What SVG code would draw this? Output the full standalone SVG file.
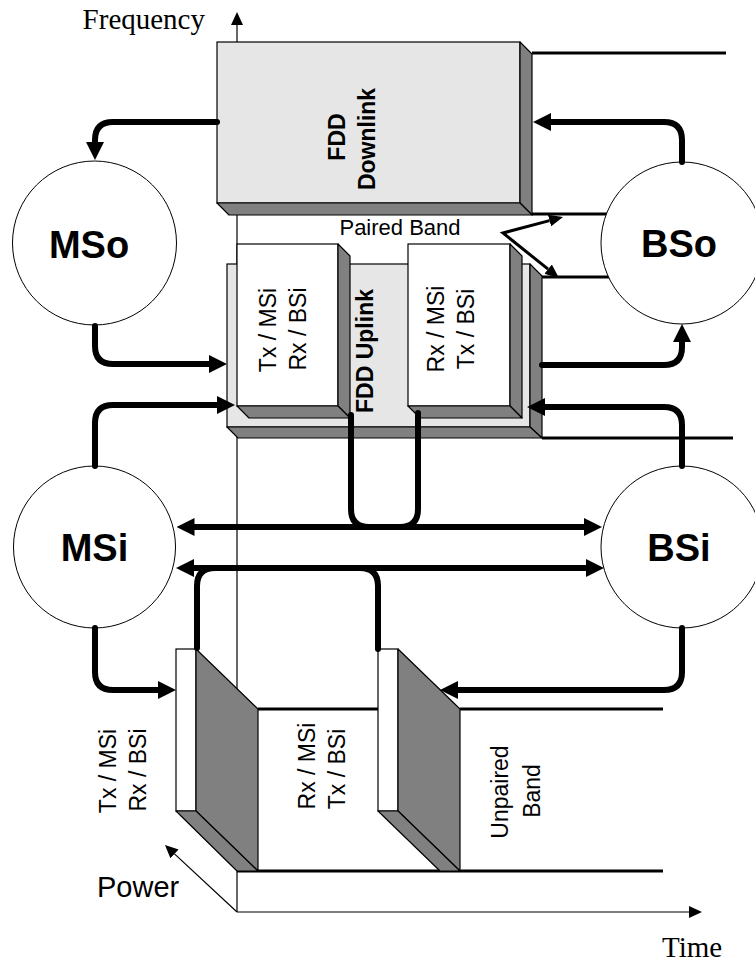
<svg xmlns="http://www.w3.org/2000/svg" width="755" height="965" viewBox="0 0 755 965">
<defs>
<style>
.face{fill:#e6e6e6;stroke:#000;stroke-width:1.2}
.white{fill:#fff;stroke:#000;stroke-width:1.2}
.side{fill:#808080;stroke:#000;stroke-width:1.2;stroke-linejoin:round}
.band{fill:none;stroke:#000;stroke-width:3}
.thin{fill:none;stroke:#000;stroke-width:1.2}
.conn{fill:none;stroke:#000;stroke-width:6;stroke-linecap:round;stroke-linejoin:round}
.pb{fill:none;stroke:#000;stroke-width:3;stroke-linejoin:miter}
.node{fill:#fff;stroke:#000;stroke-width:1}
.sans{font-family:"Liberation Sans",Arial,sans-serif;fill:#000}
.serif{font-family:"Liberation Serif","Times New Roman",serif;fill:#000;font-size:29px}
.lbl{font-size:23px}
.big{font-size:38px;font-weight:bold}
.bold{font-size:23px;font-weight:bold}
</style>
<marker id="ah" markerUnits="userSpaceOnUse" viewBox="0 0 18 18" refX="0" refY="9" markerWidth="18" markerHeight="18" orient="auto-start-reverse"><path d="M0,0 L18,9 L0,18 z" fill="#000"/></marker>
<marker id="sa" markerUnits="userSpaceOnUse" viewBox="0 0 14 12" refX="0" refY="6" markerWidth="14" markerHeight="12" orient="auto-start-reverse"><path d="M0,0 L14,6 L0,12 z" fill="#000"/></marker>
<marker id="ax" markerUnits="userSpaceOnUse" viewBox="0 0 13 12" refX="0" refY="6" markerWidth="13" markerHeight="12" orient="auto"><path d="M0,0 L13,6 L0,12 z" fill="#000"/></marker>
</defs>

<g id="axes">
<path class="thin" d="M237,912 V25" marker-end="url(#ax)"/>
<path class="thin" d="M237,912 H689" marker-end="url(#ax)"/>
<path class="thin" d="M237,912 L174.5,853.9" marker-end="url(#ax)"/>
</g>

<g id="band-edges">
<path class="band" d="M532,53 H726"/>
<path class="band" d="M532,214 H700"/>
<path class="band" d="M542,277 H700"/>
<path class="band" d="M542,438 H733"/>
<path class="band" d="M258,709 H378 M460,709 H663"/>
<path class="band" d="M237,871 H663"/>
</g>

<g id="node-downlink">
<rect class="face" x="217" y="42" width="303" height="161"/>
<polygon class="side" points="520,42 532,54 532,215 520,203"/>
<polygon class="side" points="217,203 520,203 532,215 229,215"/>
<text class="sans bold" text-anchor="middle" transform="translate(345,137) rotate(-90)">FDD</text>
<text class="sans bold" text-anchor="middle" transform="translate(375,139) rotate(-90)">Downlink</text>
</g>

<g id="node-uplink">
<rect class="face" x="227" y="264" width="303" height="163"/>
<polygon class="side" points="530,264 542,276 542,438 530,427"/>
<polygon class="side" points="227,427 530,427 542,438 238,438"/>
<text class="sans bold" text-anchor="middle" transform="translate(373,351) rotate(-90)">FDD Uplink</text>
</g>

<g id="node-uplink-tx">
<rect class="white" x="237" y="244" width="101" height="162"/>
<polygon class="side" points="338,244 350,256 350,418 338,406"/>
<polygon class="side" points="237,406 338,406 350,418 249,418"/>
<text class="sans lbl" text-anchor="middle" transform="translate(276,330) rotate(-90)">Tx / MSi</text>
<text class="sans lbl" text-anchor="middle" transform="translate(306,329) rotate(-90)">Rx / BSi</text>
</g>

<g id="node-uplink-rx">
<rect class="white" x="408" y="244" width="102" height="162"/>
<polygon class="side" points="510,244 522,256 522,418 510,406"/>
<polygon class="side" points="408,406 510,406 522,418 420,418"/>
<text class="sans lbl" text-anchor="middle" transform="translate(444,329) rotate(-90)">Rx / MSi</text>
<text class="sans lbl" text-anchor="middle" transform="translate(474,329) rotate(-90)">Tx / BSi</text>
</g>

<g id="node-slab1">
<rect class="white" x="176" y="649" width="20" height="162"/>
<polygon class="side" points="196,649 258,709 258,871 196,811"/>
<polygon class="side" points="176,811 196,811 258,871 237,871"/>
</g>

<g id="node-slab2">
<rect class="white" x="378" y="649" width="20" height="162"/>
<polygon class="side" points="398,649 460,709 460,871 398,811"/>
<polygon class="side" points="378,811 398,811 460,871 440,871"/>
</g>

<g id="node-mso">
<circle class="node" cx="94.5" cy="243" r="82"/>
<text class="sans big" text-anchor="middle" x="89" y="258">MSo</text>
</g>
<g id="node-bso">
<circle class="node" cx="682" cy="243" r="81"/>
<text class="sans big" text-anchor="middle" x="679" y="257">BSo</text>
</g>
<g id="node-msi">
<circle class="node" cx="94.5" cy="547" r="81"/>
<text class="sans big" text-anchor="middle" x="94.5" y="561">MSi</text>
</g>
<g id="node-bsi">
<circle class="node" cx="682" cy="547" r="81"/>
<text class="sans big" text-anchor="middle" x="679" y="561">BSi</text>
</g>

<g id="connectors">
<path class="conn" d="M217,122 H113 Q95,122 95,140 V142" marker-end="url(#ah)"/>
<path class="conn" d="M682,162 V140 Q682,122 664,122 H551" marker-end="url(#ah)"/>
<path class="conn" d="M95,326 V346 Q95,364 113,364 H209" marker-end="url(#ah)"/>
<path class="conn" d="M542,365 H664 Q682,365 682,347 V342" marker-end="url(#ah)"/>
<path class="conn" d="M95,466 V423 Q95,405 113,405 H217" marker-end="url(#ah)"/>
<path class="conn" d="M682,466 V425 Q682,407 664,407 H545" marker-end="url(#ah)"/>
<path class="conn" d="M351,415 V509 Q351,527 369,527 H400 Q418,527 418,509 V413"/>
<path class="conn" d="M194.5,527 H584" marker-start="url(#ah)" marker-end="url(#ah)"/>
<path class="conn" d="M194,568 H586" marker-start="url(#ah)" marker-end="url(#ah)"/>
<path class="conn" d="M197,648 V586 Q197,568 215,568 H360 Q378,568 378,586 V649"/>
<path class="conn" d="M95,628 V672 Q95,690 113,690 H158" marker-end="url(#ah)"/>
<path class="conn" d="M682,628 V672 Q682,690 664,690 H458" marker-end="url(#ah)"/>
<path class="pb" d="M549.5,220.6 L503,233 L548.1,269.2" marker-start="url(#sa)" marker-end="url(#sa)"/>
</g>

<g id="labels">
<text class="serif" text-anchor="end" x="205" y="29">Frequency</text>
<text class="serif" x="662" y="957">Time</text>
<text class="sans" font-size="29" x="97" y="897">Power</text>
<text class="sans" font-size="22" text-anchor="middle" x="400" y="235">Paired Band</text>
<text class="sans lbl" text-anchor="middle" transform="translate(116,771) rotate(-90)">Tx / MSi</text>
<text class="sans lbl" text-anchor="middle" transform="translate(146,770) rotate(-90)">Rx / BSi</text>
<text class="sans lbl" text-anchor="middle" transform="translate(315,766) rotate(-90)">Rx / MSi</text>
<text class="sans lbl" text-anchor="middle" transform="translate(345,769) rotate(-90)">Tx / BSi</text>
<text class="sans lbl" text-anchor="middle" transform="translate(508,792) rotate(-90)">Unpaired</text>
<text class="sans lbl" text-anchor="middle" transform="translate(540,791) rotate(-90)">Band</text>
</g>
</svg>
